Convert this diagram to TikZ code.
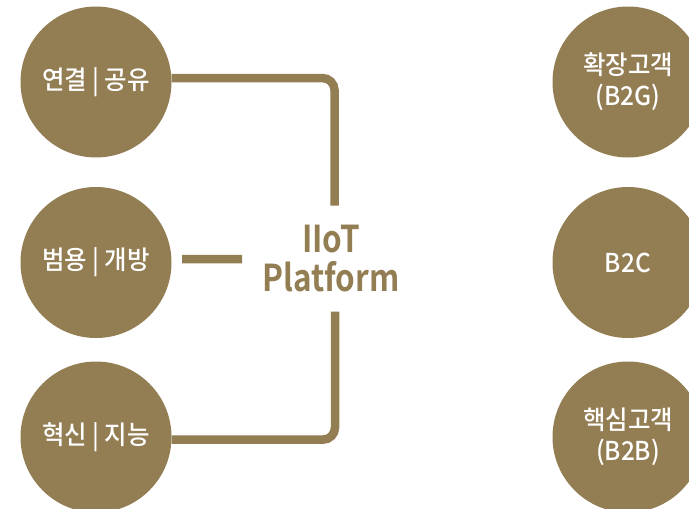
\documentclass[tikz,border=0pt]{standalone}
\usepackage{fontspec}
\usetikzlibrary{positioning}
\newfontfamily\krfont[FakeStretch=0.94]{Noto Sans CJK KR Medium}
\newfontfamily\platfont[FakeStretch=0.85]{Noto Sans CJK KR Bold}
\definecolor{gold}{RGB}{147,125,83}
\tikzset{ball/.style={circle,fill=gold,minimum size=151pt,inner sep=0pt,text=white,align=center,font=\krfont\fontsize{26}{31}\selectfont}}
\tikzset{link/.style={draw=gold,line width=8.5pt,rounded corners=12pt}}

\begin{document}
\begin{tikzpicture}[x=1pt,y=-1pt]
        \useasboundingbox (0,0) rectangle (689,509);
        \clip (0,0) rectangle (689,509);
        % left side
        \node[ball](yeon) at (96,82){\raisebox{-3pt}{연결 | 공유}};
        \node[ball](beom) at (96,262.5){\raisebox{-3pt}{범용 | 개방}};
        \node[ball](hyeok) at (96,437){\raisebox{-3pt}{혁신 | 지능}};
        % right side
        \node[ball](hwak) at (628,82){확장고객\\(B2G)};
        \node[ball](btoc) at (628,262.5){B2C};
        \node[ball](haek) at (628,437){핵심고객\\(B2B)};
        % platform
        \node(iiot) at (331,259)[text=gold,align=center,font=\platfont\fontsize{37}{39}\selectfont]{IIoT\\Platform};
        \coordinate(topend) at (334.5,205.7);
        \coordinate(botend) at (335,311.7);
        \coordinate(midA) at (182,259);
        \coordinate(midB) at (242,259);
        \draw[link]
        (yeon.3) -| (topend)
        (hyeok.-2) -| (botend)
        (midA) -- (midB);
      \end{tikzpicture}
\end{document}
